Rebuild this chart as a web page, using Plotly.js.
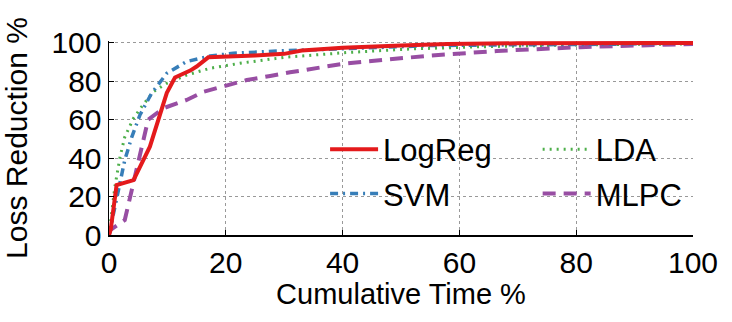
<!DOCTYPE html>
<html>
<head>
<meta charset="utf-8">
<script src="https://cdn.plot.ly/plotly-3.0.1.min.js"></script>
<style>
  body { margin: 0; background: #fff; }
  #chart { width: 732px; height: 322px; }
</style>
</head>
<body>
<div id="chart"></div>
<script>
// values (x = cumulative time %, y = loss reduction %)
var logregX = [0, 0.3, 1.3, 4.2, 7, 9.9, 11.3, 13.9, 15, 17, 25, 30, 33, 40, 50, 58, 70, 80, 90, 100];
var logregY = [0, 3, 26, 28.6, 46, 74, 82, 85.6, 87.7, 92.5, 93.5, 94.3, 96, 97.5, 98.6, 99.5, 99.8, 100, 100, 100];

var svmX = [0, 1, 2.7, 3.9, 5.3, 7.3, 9.9, 13.3, 17.3, 21.3, 29.8, 42.4, 55, 69, 86, 100];
var svmY = [0, 14.7, 39, 51, 62.5, 73.8, 84.2, 90.3, 93.2, 94.6, 95.9, 97.2, 98.6, 99, 99.3, 100];

var ldaX = [0, 1, 1.9, 2.7, 4.2, 5.6, 7.6, 9.9, 13.3, 17.3, 22.4, 30, 40.7, 52, 63.5, 80.7, 100];
var ldaY = [0, 25, 40.8, 51, 60.8, 66.8, 74.6, 79, 83.3, 86.8, 89.4, 92.5, 95, 96.9, 98, 99, 99.5];

var mlpcX = [0, 0.2, 2.7, 3.9, 5.3, 6.7, 9.3, 13.3, 16.2, 19.6, 23.6, 27.6, 31, 40.7, 55, 66.4, 80.7, 97.8, 100];
var mlpcY = [0, 2.6, 7.8, 23.4, 42.5, 60, 66, 70.3, 74.6, 77.3, 80.7, 82.8, 84.7, 89.4, 93.4, 95.8, 97.8, 99.3, 99.5];

var tickVals = [0, 20, 40, 60, 80, 100];

var ldaTrace = {
  x: ldaX, y: ldaY, name: 'LDA', mode: 'lines', type: 'scatter',
  line: {color: '#4daf4a', width: 3, dash: '2px,5px'},
  legend: 'legend2', legendgroup: 'lda', legendrank: 1
};
var mlpcTrace = {
  x: mlpcX, y: mlpcY, name: 'MLPC', mode: 'lines', type: 'scatter',
  line: {color: '#984ea3', width: 4, dash: '13px,8px'},
  legend: 'legend2', legendgroup: 'mlpc', legendrank: 2
};
var svmTrace = {
  x: svmX, y: svmY, name: 'SVM', mode: 'lines', type: 'scatter',
  line: {color: '#377eb8', width: 3.5, dash: '8px,5px,2px,5px'},
  legend: 'legend', legendgroup: 'svm', legendrank: 2
};
var logregTrace = {
  x: logregX, y: logregY, name: 'LogReg', mode: 'lines', type: 'scatter',
  line: {color: '#e41a1c', width: 4},
  legend: 'legend', legendgroup: 'logreg', legendrank: 1
};

var data = [ldaTrace, mlpcTrace, svmTrace, logregTrace];

var fam = 'Liberation Sans, Arial, sans-serif';
var tickFont = {family: fam, size: 30, color: '#000'};
var legFont = {family: fam, size: 31, color: '#000'};

var layout = {
  width: 732,
  height: 322,
  margin: {l: 109, r: 39, t: 41, b: 87},
  paper_bgcolor: '#fff',
  plot_bgcolor: '#fff',
  font: tickFont,
  showlegend: true,
  xaxis: {
    range: [0, 100],
    tickvals: tickVals,
    ticks: 'inside',
    ticklen: 5,
    tickcolor: '#000',
    showline: true,
    linecolor: '#000',
    linewidth: 1.5,
    showgrid: true,
    gridcolor: '#999',
    griddash: 'dot',
    zeroline: false,
    tickfont: tickFont,
    title: {text: 'Cumulative Time %', font: {family: fam, size: 29, color: '#000'}, standoff: 2}
  },
  yaxis: {
    range: [0, 101],
    tickvals: tickVals,
    ticks: 'inside',
    ticklen: 5,
    tickcolor: '#000',
    showline: true,
    linecolor: '#000',
    linewidth: 1.5,
    showgrid: true,
    gridcolor: '#999',
    griddash: 'dot',
    zeroline: false,
    tickfont: tickFont,
    title: {text: 'Loss Reduction %', font: {family: fam, size: 30, color: '#000'}, standoff: 15}
  },
  legend: {
    x: 0.37, y: 0.58, xanchor: 'left', yanchor: 'top',
    bgcolor: 'rgba(255,255,255,0)', itemwidth: 48,
    font: legFont, traceorder: 'grouped', tracegroupgap: 1
  },
  legend2: {
    x: 0.734, y: 0.58, xanchor: 'left', yanchor: 'top',
    bgcolor: 'rgba(255,255,255,0)', itemwidth: 48,
    font: legFont, traceorder: 'grouped', tracegroupgap: 1
  }
};

Plotly.newPlot('chart', data, layout, {displayModeBar: false, staticPlot: true});
</script>
</body>
</html>
